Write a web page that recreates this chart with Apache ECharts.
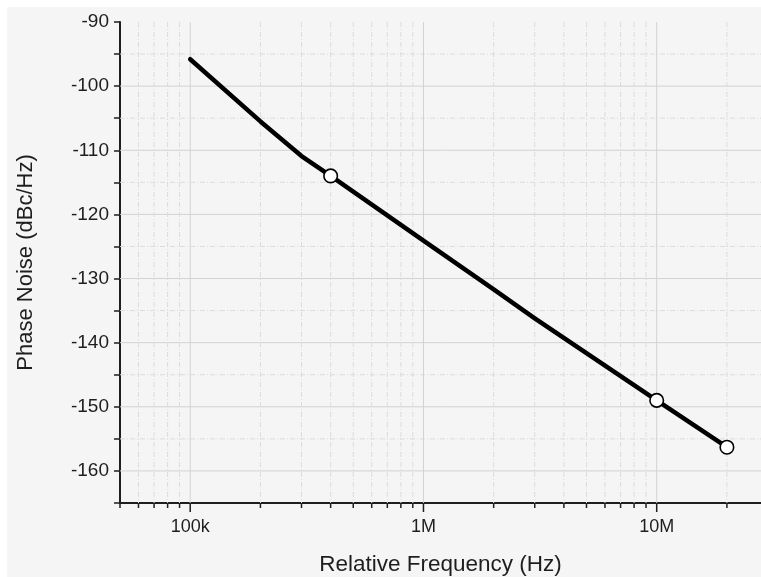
<!DOCTYPE html>
<html><head><meta charset="utf-8">
<script src="https://cdn.jsdelivr.net/npm/echarts@6/dist/echarts.min.js"></script>
<style>
html,body{margin:0;padding:0;background:#fff;width:761px;height:577px;overflow:hidden}
#c{position:absolute;left:7px;top:7px;width:754px;height:570px;}
</style></head>
<body><div id="c"></div>
<script>
// ---- data ----
const freqHz = [1e5, 2e5, 3e5, 4e5, 1e6, 2e6, 3e6, 1e7, 2e7];
const phaseNoise = [-95.8, -105.5, -110.9, -114.0, -124.1, -131.7, -136.2, -149.0, -156.3];
const markerFreq = [4e5, 1e7, 2e7];
const markerNoise = [-114.0, -149.0, -156.3];
// ---- axes / ticks ----
const X_MIN = 5e4, X_MAX = 2.8e7, Y_MIN = -165, Y_MAX = -90;
const xMajorTicks = [1e5, 1e6, 1e7];
const xMajorLabels = ['100k', '1M', '10M'];
const xMinorTicks = [5e4, 6e4, 7e4, 8e4, 9e4,
  2e5, 3e5, 4e5, 5e5, 6e5, 7e5, 8e5, 9e5,
  2e6, 3e6, 4e6, 5e6, 6e6, 7e6, 8e6, 9e6,
  2e7];
const yMajorGrid = [-160, -150, -140, -130, -120, -110, -100];
const yMinorGrid = [-155, -145, -135, -125, -115, -105, -95];

const FONT = 'Liberation Sans, Arial, sans-serif';
const TXT = '#1e1e1e';
const MINOR_GRID = '#dcdcdc';
const MAJOR_GRID = '#d2d2d2';
const DASH = [5, 2, 1, 2];

const chart = echarts.init(document.getElementById('c'));

function vLine(kind) {
  return function (params, api) {
    const v = api.value(0);
    const top = api.coord([v, Y_MAX]);
    const bot = api.coord([v, Y_MIN]);
    const children = [];
    const major = kind === 'major';
    if (v > X_MIN) {
      children.push({type: 'line', shape: {x1: top[0], y1: top[1], x2: bot[0], y2: bot[1]},
        style: {stroke: major ? MAJOR_GRID : MINOR_GRID, lineWidth: 1, lineDash: major ? null : DASH}});
    }
    children.push({type: 'line', shape: {x1: bot[0], y1: bot[1], x2: bot[0], y2: bot[1] + (major ? 9 : 5)},
      style: {stroke: TXT, lineWidth: 1.5}});
    return {type: 'group', children: children};
  };
}
function hLine(kind) {
  return function (params, api) {
    const v = api.value(1);
    const l = api.coord([X_MIN, v]);
    const r = api.coord([X_MAX, v]);
    const major = kind === 'major';
    return {type: 'line', shape: {x1: l[0], y1: l[1], x2: r[0], y2: r[1]},
      style: {stroke: major ? MAJOR_GRID : MINOR_GRID, lineWidth: 1, lineDash: major ? null : DASH}};
  };
}

chart.setOption({
  backgroundColor: '#f5f5f5',
  animation: false,
  textStyle: {fontFamily: FONT},
  grid: {left: 113, top: 15, right: 0, bottom: 74, containLabel: false, outerBoundsMode: 'none'},
  xAxis: {
    type: 'log', logBase: 10, min: X_MIN, max: X_MAX,
    name: 'Relative Frequency (Hz)', nameLocation: 'middle', nameGap: 50,
    nameTextStyle: {fontSize: 22.5, color: TXT, fontFamily: FONT},
    axisLine: {show: true, lineStyle: {color: TXT, width: 2}},
    axisTick: {show: false},
    splitLine: {show: false},
    axisLabel: {
      fontSize: 18, color: TXT, margin: 15, fontFamily: FONT,
      formatter: function (v) {
        const i = xMajorTicks.findIndex(t => Math.abs(t - v) / t < 1e-6);
        return i >= 0 ? xMajorLabels[i] : '';
      }
    }
  },
  yAxis: {
    type: 'value', min: Y_MIN, max: Y_MAX, interval: 5,
    name: 'Phase Noise (dBc/Hz)', nameLocation: 'middle', nameGap: 83,
    nameTextStyle: {fontSize: 22, color: TXT, fontFamily: FONT},
    axisLine: {show: true, lineStyle: {color: TXT, width: 2}},
    axisTick: {show: true, inside: false, length: 6, lineStyle: {color: TXT, width: 1.5}},
    splitLine: {show: false},
    axisLabel: {
      fontSize: 19, color: TXT, margin: 11, fontFamily: FONT,
      formatter: function (v) { return (Math.round(v) % 10 === 0) ? String(Math.round(v)) : ''; }
    }
  },
  series: [
    {type: 'custom', z: 1, silent: true, clip: false, renderItem: hLine('minor'),
      encode: {x: 0, y: 1}, data: yMinorGrid.map(v => [X_MIN, v])},
    {type: 'custom', z: 1, silent: true, clip: false, renderItem: hLine('major'),
      encode: {x: 0, y: 1}, data: yMajorGrid.map(v => [X_MIN, v])},
    {type: 'custom', z: 1, silent: true, clip: false, renderItem: vLine('minor'),
      encode: {x: 0, y: 1}, data: xMinorTicks.map(v => [v, Y_MIN])},
    {type: 'custom', z: 1, silent: true, clip: false, renderItem: vLine('major'),
      encode: {x: 0, y: 1}, data: xMajorTicks.map(v => [v, Y_MIN])},
    {type: 'line', z: 5, symbol: 'none', smooth: false,
      lineStyle: {color: '#000', width: 4.5, join: 'round', cap: 'round'},
      data: freqHz.map((f, i) => [f, phaseNoise[i]])},
    {type: 'scatter', z: 6, symbol: 'circle', symbolSize: 13.5,
      itemStyle: {color: '#fff', borderColor: '#000', borderWidth: 1.6, opacity: 1},
      data: markerFreq.map((f, i) => [f, markerNoise[i]])}
  ]
});
</script></body></html>
